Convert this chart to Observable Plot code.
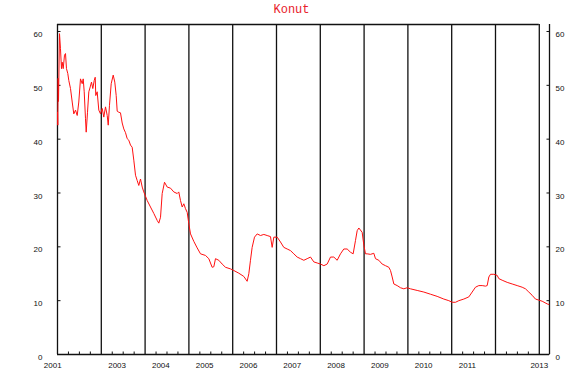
<!DOCTYPE html>
<html>
<head>
<meta charset="utf-8">
<script src="https://cdn.jsdelivr.net/npm/d3@7"></script>
<script src="https://cdn.jsdelivr.net/npm/@observablehq/plot@0.6"></script>
<style>
  html, body { margin: 0; padding: 0; background: #fff; }
  #chart { width: 575px; height: 379px; }
</style>
</head>
<body>
<div id="chart"></div>
<script>
// ---- data (t = years since the left edge of the chart, v = value) ----
const seriesT = [0.000,0.007,0.014,0.023,0.046,0.068,0.091,0.107,0.130,0.160,0.183,0.205,0.235,0.258,0.297,0.336,0.372,0.411,0.450,0.486,0.525,0.564,0.587,0.610,0.639,0.655,0.685,0.715,0.747,0.776,0.806,0.838,0.861,0.874,0.906,0.943,0.982,1.021,1.057,1.096,1.135,1.158,1.187,1.226,1.272,1.308,1.340,1.363,1.400,1.438,1.477,1.514,1.553,1.591,1.628,1.667,1.705,1.742,1.781,1.820,1.856,1.895,1.934,1.970,2.048,2.123,2.199,2.276,2.313,2.352,2.390,2.443,2.505,2.580,2.655,2.733,2.769,2.808,2.847,2.884,2.922,2.961,2.998,3.037,3.113,3.189,3.265,3.379,3.455,3.531,3.569,3.607,3.683,3.759,3.836,3.950,4.026,4.140,4.254,4.330,4.368,4.406,4.444,4.498,4.559,4.635,4.711,4.787,4.863,4.901,4.939,5.015,5.091,5.167,5.244,5.320,5.396,5.472,5.548,5.624,5.700,5.776,5.852,5.928,6.005,6.081,6.157,6.233,6.309,6.385,6.461,6.537,6.613,6.689,6.750,6.804,6.842,6.880,6.956,6.994,7.032,7.070,7.146,7.222,7.260,7.336,7.412,7.489,7.565,7.603,7.641,7.679,7.755,7.831,7.907,7.983,8.059,8.212,8.364,8.516,8.668,8.820,8.934,9.011,9.087,9.163,9.277,9.391,9.467,9.543,9.619,9.696,9.772,9.810,9.848,9.886,9.962,10.038,10.076,10.152,10.267,10.381,10.495,10.609,10.685,10.761,10.837,10.913,10.989,11.065,11.180,11.218];
const seriesV = [45.0,42.6,51.3,47.0,59.6,56.8,53.1,54.3,53.1,55.6,55.9,53.1,52.2,50.9,49.4,46.9,44.7,45.4,44.4,46.9,51.2,50.3,51.2,48.8,43.8,41.3,45.0,48.8,49.7,50.6,49.4,50.9,51.5,48.1,48.8,45.4,44.7,45.7,44.1,46.0,44.4,42.6,46.3,50.3,51.9,50.6,48.1,45.2,45.0,44.9,43.0,41.9,41.2,40.1,39.8,38.9,38.5,36.1,33.3,32.3,31.4,32.6,31.1,30.2,28.6,27.4,26.2,24.9,24.4,25.5,29.9,32.0,31.1,30.9,30.2,29.9,30.2,28.6,27.4,28.0,27.1,26.4,24.3,22.4,21.0,19.8,18.7,18.4,17.8,16.2,16.3,17.8,17.5,16.8,16.2,15.9,15.6,15.1,14.5,13.6,15.0,17.5,19.9,21.8,22.4,22.1,22.3,22.1,21.9,19.9,21.8,21.8,20.9,19.9,19.6,19.3,18.7,18.1,17.8,17.5,17.8,18.1,17.2,17.0,16.8,16.5,16.8,18.1,18.1,17.5,18.7,19.6,19.6,19.0,18.7,21.2,23.0,23.5,22.7,20.3,18.7,18.7,18.6,18.8,17.8,17.5,16.8,16.5,16.2,15.6,14.4,13.1,12.8,12.4,12.2,12.4,12.2,11.9,11.6,11.2,10.8,10.3,10.0,9.7,9.7,10.0,10.3,10.7,11.6,12.5,12.8,12.8,12.7,12.8,14.4,14.9,14.9,14.7,14.1,13.8,13.4,13.1,12.8,12.5,12.2,11.6,11.0,10.3,10.1,9.9,9.4,9.3];

const yearLines = [1,2,3,4,5,6,7,8,9,10,11];
const minorTicks = [];
for (let k = 0; k <= 10; k++) for (const q of [0.25, 0.5, 0.75]) minorTicks.push(k + q);
const xLabelPos = [-0.11, 1.36, 2.36, 3.36, 4.36, 5.36, 6.36, 7.36, 8.36, 9.36, 11.0];
const xLabels = ["2001","2003","2004","2005","2006","2007","2008","2009","2010","2011","2013"];
const yTicks = [0,10,20,30,40,50,60];
const xMax = 11.233;
const yMax = 61.3;
const title = "Konut";

const data = seriesT.map((t, i) => ({t, v: seriesV[i]}));
const xLab = xLabels.map((s, i) => ({pos: xLabelPos[i], s}));

const tickRight = {draw(c) { c.moveTo(0, 0); c.lineTo(3, 0); }};
const tickLeft  = {draw(c) { c.moveTo(0, 0); c.lineTo(-3, 0); }};
const tickUp    = {draw(c) { c.moveTo(0, 0); c.lineTo(0, -3); }};

const chart = Plot.plot({
  width: 575,
  height: 379,
  marginLeft: 57,
  marginRight: 26,
  marginTop: 24,
  marginBottom: 25,
  style: {fontFamily: "Liberation Sans, Arial, sans-serif", fontSize: "8px", background: "#fff", color: "#000"},
  x: {domain: [0, xMax], axis: null},
  y: {domain: [0, yMax], axis: null},
  marks: [
    Plot.ruleX(yearLines, {stroke: "#111", strokeWidth: 1.3}),
    Plot.ruleY([yMax], {x1: 0, x2: 11, stroke: "#111", strokeWidth: 1.3}),
    Plot.ruleX([0], {stroke: "#111", strokeWidth: 1.3}),
    Plot.ruleX([xMax], {stroke: "#111", strokeWidth: 1.3}),
    Plot.ruleY([0], {stroke: "#111", strokeWidth: 1.3}),
    Plot.dot(minorTicks, {x: d => d, frameAnchor: "bottom", symbol: tickUp, stroke: "#111", fill: "none", strokeWidth: 1}),
    Plot.dot(yTicks, {y: d => d, frameAnchor: "left", symbol: tickRight, stroke: "#111", fill: "none", strokeWidth: 1}),
    Plot.dot(yTicks, {y: d => d, frameAnchor: "right", symbol: tickLeft, stroke: "#111", fill: "none", strokeWidth: 1}),
    Plot.text(yTicks, {y: d => d, frameAnchor: "left", dx: -15, dy: 3, textAnchor: "end", text: d => String(d), fill: "#111"}),
    Plot.text(yTicks, {y: d => d, frameAnchor: "right", dx: 6, dy: 3, textAnchor: "start", text: d => String(d), fill: "#111"}),
    Plot.text(xLab, {x: "pos", frameAnchor: "bottom", dy: 13, text: "s", fill: "#111"}),
    Plot.line(data, {x: "t", y: "v", stroke: "#ff1010", strokeWidth: 1}),
    Plot.text([title], {frameAnchor: "top", dx: -12, dy: -20, text: d => d, fill: "#e8202a",
      fontFamily: "Liberation Mono, Courier New, monospace", fontSize: 12})
  ]
});
document.getElementById("chart").appendChild(chart);
</script>
</body>
</html>
